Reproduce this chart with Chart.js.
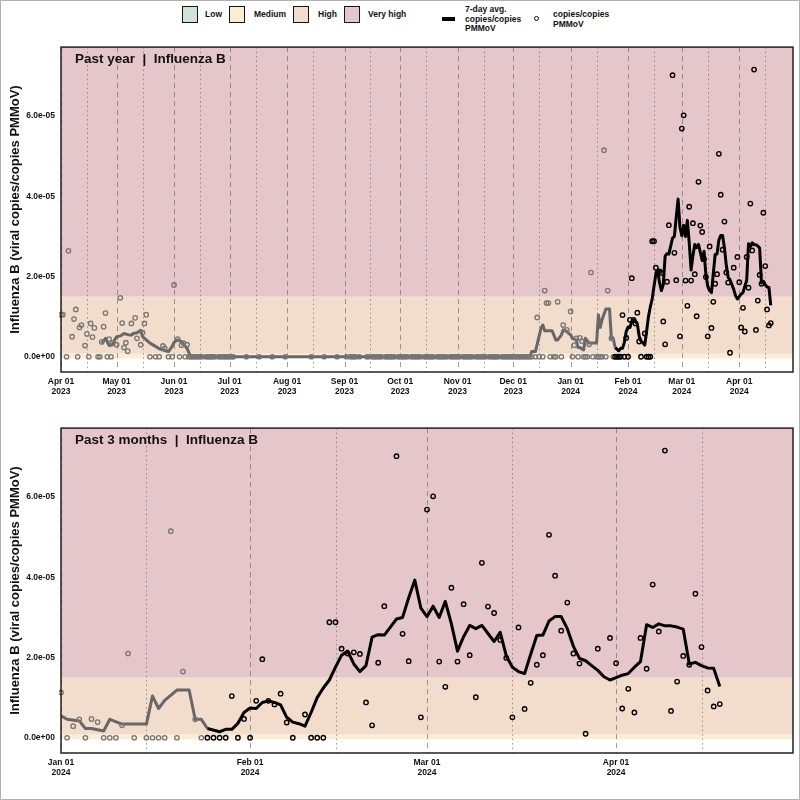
<!DOCTYPE html>
<html>
<head>
<meta charset="utf-8">
<script src="https://cdn.jsdelivr.net/npm/chart.js@4.4.1/dist/chart.umd.min.js"></script>
<style>
  html, body { margin: 0; padding: 0; background: #fff; }
  #wrap { position: relative; width: 800px; height: 800px; overflow: hidden; font-family: "Liberation Sans", Arial, sans-serif; }
  #frame { position: absolute; left: 0; top: 0; width: 800px; height: 800px; box-sizing: border-box; border: 1px solid #b0b0b0; pointer-events: none; }
  .box { position: absolute; top: 6px; width: 14px; height: 15px; border: 1.5px solid #151515; }
  .lab { position: absolute; font-size: 8.5px; font-weight: bold; line-height: 9.5px; color: #111; white-space: nowrap; }
  .cw { position: absolute; left: 0; width: 800px; height: 368px; }
</style>
</head>
<body>
<div id="wrap">
  <div id="legend"></div>
  <div class="cw" style="top:36px"><canvas id="pastYear" width="800" height="368"></canvas></div>
  <div class="cw" style="top:417px"><canvas id="past3m" width="800" height="368"></canvas></div>
  <div id="frame"></div>
</div>
<script>
// ---------- data (values in units of 1e-5 copies/copies PMMoV) ----------
const UNIT = 1e-5;

// readings above zero
const posDates = [
  '2023-04-01','2023-04-02','2023-04-05','2023-04-07','2023-04-08','2023-04-09','2023-04-11','2023-04-12',
  '2023-04-14','2023-04-15','2023-04-17','2023-04-18','2023-04-19','2023-04-23','2023-04-24','2023-04-25',
  '2023-04-27','2023-04-29','2023-05-01','2023-05-03','2023-05-04','2023-05-05','2023-05-06','2023-05-07',
  '2023-05-09','2023-05-11','2023-05-12','2023-05-14','2023-05-15','2023-05-16','2023-05-17','2023-05-26',
  '2023-05-27','2023-06-01','2023-06-03','2023-06-05','2023-06-06','2023-06-08',
  '2023-12-14','2023-12-18','2023-12-19','2023-12-20','2023-12-25','2023-12-28','2023-12-30',
  '2024-01-01','2024-01-03','2024-01-04','2024-01-06','2024-01-07','2024-01-11','2024-01-12','2024-01-19',
  '2024-01-21','2024-01-23','2024-01-29','2024-01-31',
  '2024-02-02','2024-02-03','2024-02-04','2024-02-05','2024-02-06','2024-02-07','2024-02-10','2024-02-14',
  '2024-02-15','2024-02-16','2024-02-17','2024-02-18','2024-02-19','2024-02-20','2024-02-21','2024-02-22',
  '2024-02-23','2024-02-25','2024-02-26','2024-02-27','2024-02-29',
  '2024-03-01','2024-03-02','2024-03-03','2024-03-04','2024-03-05','2024-03-06','2024-03-07','2024-03-08',
  '2024-03-09','2024-03-10','2024-03-11','2024-03-12','2024-03-13','2024-03-14','2024-03-15','2024-03-16',
  '2024-03-17','2024-03-18','2024-03-19','2024-03-20','2024-03-21','2024-03-22','2024-03-23','2024-03-24',
  '2024-03-25','2024-03-26','2024-03-27','2024-03-29','2024-03-31',
  '2024-04-01','2024-04-02','2024-04-03','2024-04-04','2024-04-05','2024-04-06','2024-04-07','2024-04-08',
  '2024-04-09','2024-04-10','2024-04-11','2024-04-12','2024-04-13','2024-04-14','2024-04-15','2024-04-16',
  '2024-04-17','2024-04-18'
];
const posValues = [
  1.05, 1.05, 2.64, 0.50, 0.94, 1.18, 0.73, 0.79,
  0.28, 0.57, 0.83, 0.49, 0.72, 0.37, 0.75, 1.09,
  0.44, 0.34, 0.30, 1.47, 0.84, 0.23, 0.35, 0.14,
  0.83, 0.97, 0.46, 0.30, 0.60, 0.83, 1.05, 0.27,
  0.21, 1.79, 0.44, 0.29, 0.34, 0.30,
  0.98, 1.65, 1.34, 1.34, 1.37, 0.79, 0.67,
  1.13, 0.29, 0.46, 0.47, 0.39, 0.31, 2.10, 5.15,
  1.65, 0.46, 1.04, 0.47,
  0.92, 1.96, 0.92, 0.83, 1.10, 0.38, 0.58, 2.88,
  2.88, 2.22, 2.10, 2.13, 2.09, 0.88, 0.31, 1.87,
  3.28, 7.02, 2.59, 1.91, 0.51,
  5.69, 6.02, 1.90, 1.27, 3.74, 1.90, 3.33, 2.06,
  1.01, 4.36, 3.27, 3.11, 2.44, 1.99, 0.51, 2.75,
  0.72, 1.37, 1.82, 2.06, 5.06, 4.04, 2.67, 3.37,
  2.10, 1.85, 0.10, 2.22, 2.49,
  1.86, 0.73, 1.22, 0.63, 2.49, 1.72, 3.82, 2.65,
  7.16, 0.67, 1.40, 2.04, 1.82, 3.59, 2.26, 1.18,
  0.78, 0.84
];

// readings of zero
const zeroDates = [
  '2023-04-04','2023-04-10','2023-04-16','2023-04-21','2023-04-22','2023-04-26','2023-04-28',
  '2023-05-19','2023-05-22','2023-05-24','2023-05-29','2023-05-31','2023-06-04','2023-06-07',
  '2023-06-09','2023-06-10','2023-06-11','2023-06-12','2023-06-13','2023-06-14','2023-06-15','2023-06-16',
  '2023-06-18','2023-06-19','2023-06-20','2023-06-21','2023-06-22','2023-06-23','2023-06-25','2023-06-26',
  '2023-06-27','2023-06-28','2023-06-29','2023-06-30','2023-07-01','2023-07-02','2023-07-03',
  '2023-07-10','2023-07-17','2023-07-24','2023-07-31','2023-08-14','2023-08-21','2023-08-28',
  '2023-09-02','2023-09-04','2023-09-05','2023-09-06','2023-09-07','2023-09-09','2023-09-13','2023-09-14',
  '2023-09-16','2023-09-17','2023-09-18','2023-09-19','2023-09-20','2023-09-21','2023-09-23','2023-09-24',
  '2023-09-25','2023-09-26','2023-09-27','2023-09-28','2023-09-30',
  '2023-10-01','2023-10-02','2023-10-03','2023-10-04','2023-10-05','2023-10-07','2023-10-08','2023-10-09',
  '2023-10-10','2023-10-11','2023-10-12','2023-10-14','2023-10-15','2023-10-16','2023-10-17','2023-10-18',
  '2023-10-19','2023-10-21','2023-10-22','2023-10-23','2023-10-24','2023-10-25','2023-10-26','2023-10-28',
  '2023-10-29','2023-10-30','2023-10-31',
  '2023-11-01','2023-11-02','2023-11-04','2023-11-05','2023-11-06','2023-11-07','2023-11-08','2023-11-09',
  '2023-11-11','2023-11-12','2023-11-13','2023-11-14','2023-11-15','2023-11-16','2023-11-18','2023-11-19',
  '2023-11-20','2023-11-21','2023-11-22','2023-11-23','2023-11-25','2023-11-26','2023-11-27','2023-11-28',
  '2023-11-29','2023-11-30',
  '2023-12-01','2023-12-02','2023-12-03','2023-12-04','2023-12-05','2023-12-06','2023-12-07','2023-12-08',
  '2023-12-09','2023-12-10','2023-12-11','2023-12-13','2023-12-15','2023-12-17','2023-12-21','2023-12-23',
  '2023-12-24','2023-12-27',
  '2024-01-02','2024-01-05','2024-01-08','2024-01-09','2024-01-10','2024-01-13','2024-01-15','2024-01-16',
  '2024-01-17','2024-01-18','2024-01-20','2024-01-24','2024-01-25','2024-01-26','2024-01-27','2024-01-28',
  '2024-01-30','2024-02-01','2024-02-08','2024-02-11','2024-02-12','2024-02-13'
];

// 7-day average line
const avgDates = [
  '2023-04-23','2023-04-25','2023-04-27','2023-04-29','2023-04-30','2023-05-01','2023-05-03','2023-05-05',
  '2023-05-07','2023-05-09','2023-05-10','2023-05-12','2023-05-13','2023-05-14','2023-05-15','2023-05-17',
  '2023-05-19','2023-05-22','2023-05-24','2023-05-26','2023-05-29','2023-05-31','2023-06-01','2023-06-03',
  '2023-06-05','2023-06-08','2023-06-10',
  '2023-12-10','2023-12-11','2023-12-13','2023-12-16','2023-12-17','2023-12-18','2023-12-22','2023-12-24',
  '2023-12-25','2023-12-27','2023-12-28','2023-12-30','2023-12-31',
  '2024-01-01','2024-01-02','2024-01-04','2024-01-05','2024-01-06','2024-01-08','2024-01-09','2024-01-11',
  '2024-01-15','2024-01-16','2024-01-17','2024-01-18','2024-01-20','2024-01-22','2024-01-23','2024-01-24',
  '2024-01-25','2024-01-27','2024-01-28','2024-01-29','2024-01-30','2024-01-31',
  '2024-02-01','2024-02-02','2024-02-03','2024-02-04','2024-02-05','2024-02-06','2024-02-07','2024-02-08',
  '2024-02-09','2024-02-10','2024-02-11','2024-02-12','2024-02-13','2024-02-14','2024-02-15','2024-02-16',
  '2024-02-17','2024-02-18','2024-02-19','2024-02-20','2024-02-21','2024-02-22','2024-02-23','2024-02-24',
  '2024-02-25','2024-02-26','2024-02-27','2024-02-28','2024-02-29',
  '2024-03-01','2024-03-02','2024-03-03','2024-03-04','2024-03-05','2024-03-06','2024-03-07','2024-03-08',
  '2024-03-09','2024-03-10','2024-03-11','2024-03-12','2024-03-13','2024-03-14','2024-03-15','2024-03-16',
  '2024-03-17','2024-03-18','2024-03-19','2024-03-20','2024-03-21','2024-03-22','2024-03-23','2024-03-24',
  '2024-03-25','2024-03-26','2024-03-27','2024-03-28','2024-03-29','2024-03-30','2024-03-31',
  '2024-04-01','2024-04-02','2024-04-03','2024-04-04','2024-04-05','2024-04-06','2024-04-07','2024-04-08',
  '2024-04-09','2024-04-10','2024-04-11','2024-04-12','2024-04-13','2024-04-14','2024-04-15','2024-04-16',
  '2024-04-17','2024-04-18'
];
const avgValues = [
  0.34, 0.46, 0.28, 0.30, 0.43, 0.50, 0.52, 0.58,
  0.55, 0.54, 0.58, 0.60, 0.63, 0.66, 0.50, 0.42,
  0.34, 0.26, 0.20, 0.17, 0.13, 0.26, 0.36, 0.42,
  0.38, 0.21, 0.00,
  0.00, 0.13, 0.13, 0.71, 0.79, 0.65, 0.65, 0.42,
  0.42, 0.54, 0.67, 0.63, 0.58,
  0.55, 0.46, 0.42, 0.23, 0.23, 0.17, 0.46, 0.34,
  0.34, 1.04, 0.73, 0.93, 1.19, 1.19, 0.46, 0.46,
  0.23, 0.15, 0.21, 0.21, 0.36, 0.63,
  0.74, 0.73, 0.88, 0.92, 0.88, 0.82, 0.51, 0.39,
  0.35, 0.29, 0.63, 1.00, 1.24, 1.44, 1.76, 2.06,
  2.16, 1.84, 1.65, 1.80, 2.51, 2.57, 2.56, 2.76,
  2.96, 3.00, 3.49, 3.93, 3.23,
  3.02, 3.28, 3.00, 3.40, 2.84, 2.16, 2.52, 2.80,
  2.72, 2.80, 2.60, 2.40, 2.63, 2.04, 1.76, 1.65,
  1.60, 2.08, 2.55, 2.56, 2.91, 3.02, 3.02, 2.72,
  2.28, 1.98, 1.92, 1.80, 1.68, 1.52, 1.44,
  1.50, 1.56, 1.60, 1.76, 1.90, 2.82, 2.75, 2.84,
  2.79, 2.79, 2.76, 2.71, 1.84, 1.88, 1.80, 1.74,
  1.73, 1.28
];

// start of the "past 3 months" window (black marks)
const recentFrom = '2024-01-25';

// activity levels
const levelNames = ['Low', 'Medium', 'High', 'Very high'];
const levelFrom = [0, -0.04, 0.08, 1.5];
const levelTo = [0, 0.08, 1.5, 100];
const levelFill = ['#cfe4d3', '#fbeed5', '#f2dccb', '#e5c6ca'];

// axes
const yTicks = [0, 2, 4, 6];
const yRange = [-0.38, 7.72];
const topTicks = ['2023-04-01','2023-05-01','2023-06-01','2023-07-01','2023-08-01','2023-09-01','2023-10-01',
  '2023-11-01','2023-12-01','2024-01-01','2024-02-01','2024-03-01','2024-04-01'];
const bottomTicks = ['2024-01-01','2024-02-01','2024-03-01','2024-04-01'];
const midMonths = ['2023-04-15','2023-05-15','2023-06-15','2023-07-15','2023-08-15','2023-09-15','2023-10-15',
  '2023-11-15','2023-12-15','2024-01-15','2024-02-15','2024-03-15','2024-04-15'];
const MONTHS = ['Jan','Feb','Mar','Apr','May','Jun','Jul','Aug','Sep','Oct','Nov','Dec'];

// ---------- helpers ----------
const FONT = '"Liberation Sans", Arial, sans-serif';
const BASE = Date.UTC(2023, 3, 1);
function dayNum(s) {
  const [y, m, d] = s.split('-').map(Number);
  return (Date.UTC(y, m - 1, d) - BASE) / 864e5;
}
function tickLabel(v) {
  const dt = new Date(BASE + v * 864e5);
  return [MONTHS[dt.getUTCMonth()] + ' ' + String(dt.getUTCDate()).padStart(2, '0'), String(dt.getUTCFullYear())];
}
function sci(v) {
  return Number(v).toExponential(1).replace(/e([+-])(\d)$/, 'e$10$2');
}

const samples = posDates.map((d, i) => ({ d, v: posValues[i] }))
  .concat(zeroDates.map(d => ({ d, v: 0 })))
  .sort((a, b) => dayNum(a.d) - dayNum(b.d));
const cut = dayNum(recentFrom);
const greyPts = [], blackPts = [];
samples.forEach(s => {
  const p = { x: dayNum(s.d), y: s.v * UNIT };
  (p.x < cut ? greyPts : blackPts).push(p);
});
const greyLine = [], blackLine = [];
avgDates.forEach((d, i) => {
  const p = { x: dayNum(d), y: avgValues[i] * UNIT };
  if (p.x <= cut) greyLine.push(p);
  if (p.x >= cut) blackLine.push(p);
});

// ---------- legend ----------
const legend = document.getElementById('legend');
const boxLeft = [182, 229, 293, 344];
const labLeft = [205, 254, 318, 368];
levelNames.forEach((n, i) => {
  legend.insertAdjacentHTML('beforeend',
    `<div class="box" style="left:${boxLeft[i]}px;background:${levelFill[i]}"></div>` +
    `<div class="lab" style="left:${labLeft[i]}px;top:10px">${n}</div>`);
});
legend.insertAdjacentHTML('beforeend',
  '<div style="position:absolute;left:442px;top:17px;width:13px;height:3.5px;background:#000"></div>' +
  '<div class="lab" style="left:465px;top:5px">7-day avg.<br>copies/copies<br>PMMoV</div>' +
  '<div style="position:absolute;left:534px;top:16px;width:3px;height:3px;border:1.4px solid #111;border-radius:50%"></div>' +
  '<div class="lab" style="left:553px;top:10px">copies/copies<br>PMMoV</div>');

// ---------- background bands, reference lines, frame and panel title ----------
const panelPlugin = {
  id: 'panel',
  beforeDatasetsDraw(chart) {
    const { ctx, chartArea: a, scales: { x, y } } = chart;
    ctx.save();
    ctx.beginPath();
    ctx.rect(a.left, a.top, a.width, a.height);
    ctx.clip();
    levelNames.forEach((n, i) => {
      const top = y.getPixelForValue(levelTo[i] * UNIT);
      const bot = y.getPixelForValue(levelFrom[i] * UNIT);
      if (bot - top > 0) {
        ctx.fillStyle = levelFill[i];
        ctx.fillRect(a.left, top, a.width, bot - top);
      }
    });
    ctx.strokeStyle = 'rgba(110,100,100,0.65)';
    ctx.lineWidth = 1;
    const vline = d => {
      const px = Math.round(x.getPixelForValue(dayNum(d))) + 0.5;
      ctx.beginPath();
      ctx.moveTo(px, a.top);
      ctx.lineTo(px, a.bottom);
      ctx.stroke();
    };
    ctx.setLineDash([5, 4]);
    topTicks.forEach(vline);
    ctx.setLineDash([1.5, 3]);
    midMonths.forEach(vline);
    ctx.restore();
  },
  afterDraw(chart, args, opts) {
    const { ctx, chartArea: a } = chart;
    ctx.save();
    ctx.strokeStyle = '#222';
    ctx.lineWidth = 1.5;
    ctx.strokeRect(a.left, a.top, a.width, a.height);
    ctx.fillStyle = '#111';
    ctx.font = 'bold 13.5px ' + FONT;
    ctx.textBaseline = 'top';
    ctx.fillText(opts.title, a.left + 14, a.top + 5);
    ctx.restore();
  }
};

function makeChart(id, title, fromDate, toDate, ticks) {
  return new Chart(document.getElementById(id), {
    type: 'scatter',
    data: {
      datasets: [
        { data: blackPts, pointRadius: 2.2, borderColor: '#000', borderWidth: 1.4, backgroundColor: 'rgba(0,0,0,0)', clip: 2 },
        { data: greyPts, pointRadius: 2.2, borderColor: '#767676', borderWidth: 1.3, backgroundColor: 'rgba(0,0,0,0)', clip: 2 },
        { data: blackLine, showLine: true, pointRadius: 0, borderColor: '#000', borderWidth: 3, borderJoinStyle: 'round', tension: 0, clip: 0 },
        { data: greyLine, showLine: true, pointRadius: 0, borderColor: '#676767', borderWidth: 3, borderJoinStyle: 'round', tension: 0, clip: 0 }
      ]
    },
    options: {
      animation: false,
      responsive: false,
      layout: { padding: { top: 6, right: 7, left: 0, bottom: 0 } },
      plugins: { legend: { display: false }, tooltip: { enabled: false }, panel: { title } },
      scales: {
        x: {
          type: 'linear',
          min: dayNum(fromDate),
          max: dayNum(toDate),
          grid: { display: false, drawTicks: false },
          border: { display: false },
          afterBuildTicks: s => { s.ticks = ticks.map(d => ({ value: dayNum(d) })); },
          afterFit: s => { s.height = 32; },
          ticks: {
            autoSkip: false, maxRotation: 0, padding: 5, color: '#111',
            font: { family: FONT, size: 8.5, weight: 'bold', lineHeight: 1.15 },
            callback: v => tickLabel(v)
          }
        },
        y: {
          min: yRange[0] * UNIT,
          max: yRange[1] * UNIT,
          grid: { display: false, drawTicks: false },
          border: { display: false },
          afterBuildTicks: s => { s.ticks = yTicks.map(v => ({ value: v * UNIT })); },
          afterFit: s => { s.width = 61; },
          ticks: {
            padding: 6, color: '#111',
            font: { family: FONT, size: 8.5, weight: 'bold' },
            callback: v => sci(v)
          },
          title: {
            display: true,
            text: 'Influenza B (viral copies/copies PMMoV)',
            color: '#111',
            font: { family: FONT, size: 13, weight: 'bold' },
            padding: { top: 8, bottom: 0 }
          }
        }
      }
    },
    plugins: [panelPlugin]
  });
}

makeChart('pastYear', 'Past year  |  Influenza B', '2023-04-01', '2024-04-30', topTicks);
makeChart('past3m', 'Past 3 months  |  Influenza B', '2024-01-01', '2024-04-30', bottomTicks);
</script>
</body>
</html>
